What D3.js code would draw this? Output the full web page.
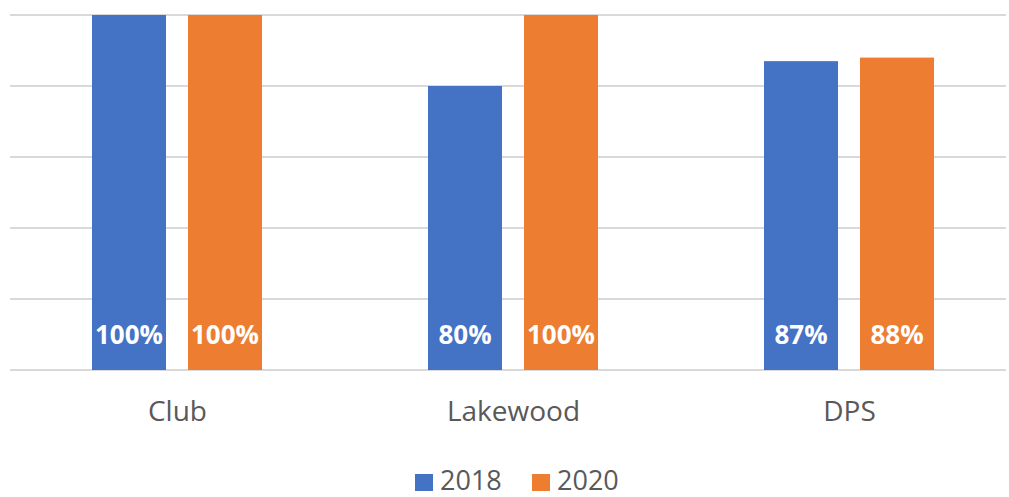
<!DOCTYPE html>
<html>
<head>
<meta charset="utf-8">
<script src="https://cdn.jsdelivr.net/npm/d3@7"></script>
<style>
  html, body { margin: 0; padding: 0; background: #fff; }
  svg { display: block; }
</style>
</head>
<body>
<svg id="chart" width="1009" height="497"></svg>
<script>
const categories = ["Club", "Lakewood", "DPS"];
const seriesNames = ["2018", "2020"];
const values2018 = [100, 80, 87];
const values2020 = [100, 100, 88];
const yTicks = [0, 20, 40, 60, 80, 100];
const colors = ["#4472C4", "#ED7D31"];

const svg = d3.select("#chart");
const font = "'Open Sans', 'Noto Sans', sans-serif";

const y = d3.scaleLinear().domain([0, 100]).range([370, 15]);
const x = d3.scaleBand().domain(categories).range([9.5, 1017.5]).padding(0);
const xInner = d3.scaleBand().domain(seriesNames).range([82.5, 252.5]).paddingInner(22 / 96).paddingOuter(0);

// gridlines
svg.append("g").selectAll("line").data(yTicks).join("line")
  .attr("x1", 10).attr("x2", 1006)
  .attr("y1", d => y(d)).attr("y2", d => y(d))
  .attr("stroke", "#d9d9d9").attr("stroke-width", 2);

const data = [];
categories.forEach((c, i) => {
  data.push({ cat: c, s: "2018", v: values2018[i], color: colors[0] });
  data.push({ cat: c, s: "2020", v: values2020[i], color: colors[1] });
});

const bars = svg.append("g");
bars.selectAll("rect").data(data).join("rect")
  .attr("x", d => x(d.cat) + xInner(d.s))
  .attr("y", d => y(d.v))
  .attr("width", xInner.bandwidth())
  .attr("height", d => y(0) - y(d.v))
  .attr("fill", d => d.color);

bars.selectAll("text").data(data).join("text")
  .attr("x", d => x(d.cat) + xInner(d.s) + xInner.bandwidth() / 2)
  .attr("y", y(0) - 26)
  .attr("text-anchor", "middle")
  .attr("font-family", font)
  .attr("font-weight", "bold")
  .attr("font-size", 26)
  .attr("fill", "#fff")
  .text(d => d.v + "%");

// category labels
svg.append("g").selectAll("text").data(categories).join("text")
  .attr("x", d => x(d) + x.bandwidth() / 2)
  .attr("y", 421)
  .attr("text-anchor", "middle")
  .attr("font-family", font)
  .attr("font-size", 28)
  .attr("fill", "#595959")
  .text(d => d);

// legend
const legendX = [415, 532];
const lg = svg.append("g");
seriesNames.forEach((s, i) => {
  lg.append("rect").attr("x", legendX[i]).attr("y", 474).attr("width", 18).attr("height", 17).attr("fill", colors[i]);
  lg.append("text").attr("x", legendX[i] + 25).attr("y", 490)
    .attr("font-family", font).attr("font-size", 27).attr("fill", "#595959").text(s);
});
</script>
</body>
</html>
